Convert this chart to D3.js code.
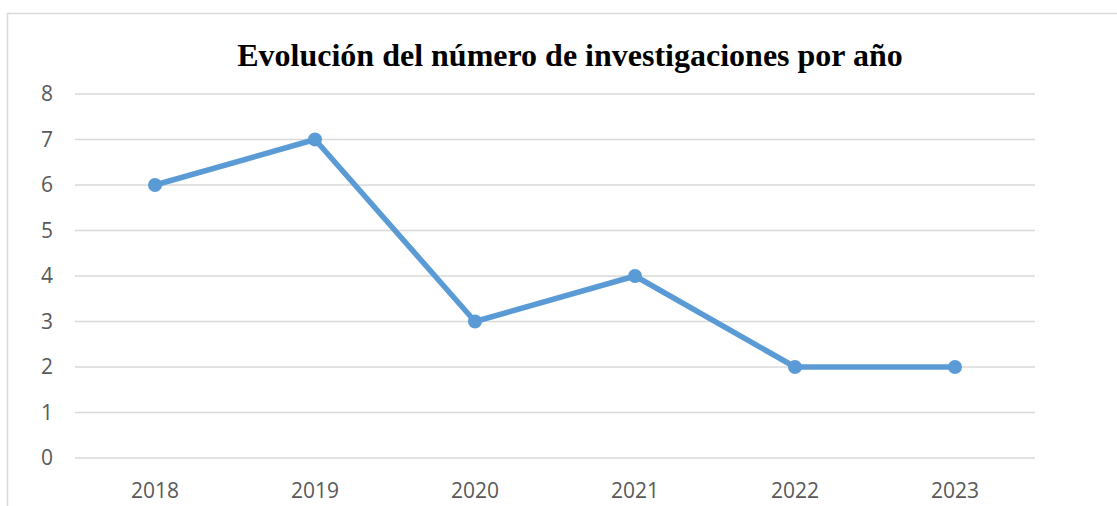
<!DOCTYPE html>
<meta charset="utf-8">
<style>
body { margin: 0; background: #fff; }
svg { display: block; }
.grid line { stroke: #d9d9d9; stroke-width: 1.5px; }
.tick-label { font: 21px "Open Sans", sans-serif; fill: #595959; }
.title { font: bold 32px "Liberation Serif", "Times New Roman", serif; fill: #000; }
</style>
<svg width="1117" height="506"></svg>
<script src="https://d3js.org/d3.v7.min.js"></script>
<script>
var years = ["2018", "2019", "2020", "2021", "2022", "2023"];
var counts = [6, 7, 3, 4, 2, 2];
var yTicks = [0, 1, 2, 3, 4, 5, 6, 7, 8];
var title = "Evolución del número de investigaciones por año";

var svg = d3.select("svg");
var width = 1117, height = 506;
var plot = {left: 75, right: 1035, top: 94, bottom: 458};

// chart frame (top and left edges only visible)
svg.append("path")
    .attr("d", "M7.5," + height + "V13.5H" + width)
    .attr("fill", "none")
    .attr("stroke", "#d9d9d9")
    .attr("stroke-width", 1.5);

var x = d3.scaleBand().domain(years).range([plot.left, plot.right]);
var y = d3.scaleLinear().domain([0, 8]).range([plot.bottom, plot.top]);

svg.append("g").attr("class", "grid")
  .selectAll("line").data(yTicks).enter().append("line")
    .attr("x1", plot.left).attr("x2", plot.right)
    .attr("y1", function(d) { return y(d); })
    .attr("y2", function(d) { return y(d); });

svg.append("g")
  .selectAll("text").data(yTicks).enter().append("text")
    .attr("class", "tick-label")
    .attr("x", 53).attr("text-anchor", "end")
    .attr("y", function(d) { return y(d); })
    .attr("dy", "0.35em")
    .text(function(d) { return d; });

svg.append("g")
  .selectAll("text").data(years).enter().append("text")
    .attr("class", "tick-label")
    .attr("x", function(d) { return x(d) + x.bandwidth() / 2; })
    .attr("y", 498)
    .attr("text-anchor", "middle")
    .text(function(d) { return d; });

var line = d3.line()
    .x(function(d, i) { return x(years[i]) + x.bandwidth() / 2; })
    .y(function(d) { return y(d); });

svg.append("path")
    .datum(counts)
    .attr("d", line)
    .attr("fill", "none")
    .attr("stroke", "#5b9bd5")
    .attr("stroke-width", 5.5)
    .attr("stroke-linejoin", "round");

svg.append("g")
  .selectAll("circle").data(counts).enter().append("circle")
    .attr("cx", function(d, i) { return x(years[i]) + x.bandwidth() / 2; })
    .attr("cy", function(d) { return y(d); })
    .attr("r", 7)
    .attr("fill", "#5b9bd5");

svg.append("text")
    .attr("class", "title")
    .attr("x", 570).attr("y", 66)
    .attr("text-anchor", "middle")
    .text(title);
</script>
